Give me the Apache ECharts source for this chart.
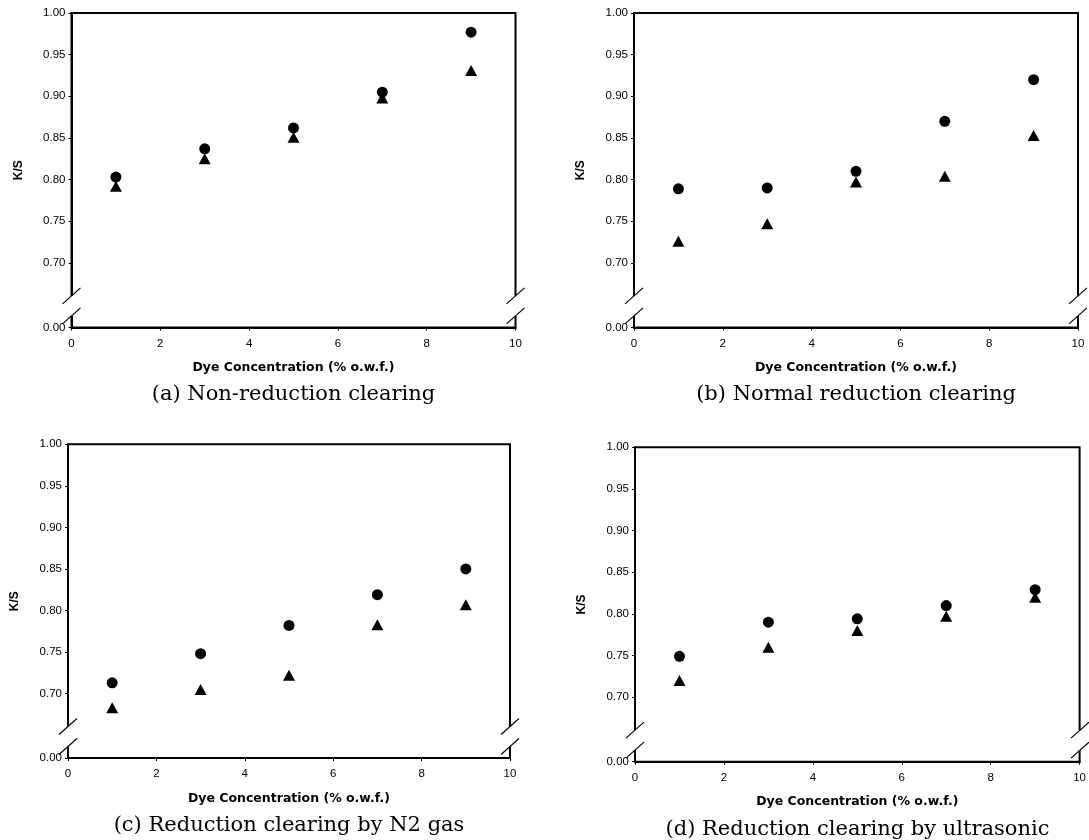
<!DOCTYPE html>
<html>
<head>
<meta charset="UTF-8">
<title>K/S vs dye concentration</title>
<script src="https://cdn.jsdelivr.net/npm/echarts@6/dist/echarts.min.js"></script>
<style>
  html, body { margin: 0; padding: 0; background: #fff; }
  #main { width: 1089px; height: 840px; }
</style>
</head>
<body>
<div id="main"></div>
<script>
// data
var conc = [1, 3, 5, 7, 9];
var circleA = [0.803, 0.837, 0.862, 0.905, 0.977];
var triA    = [0.792, 0.825, 0.851, 0.898, 0.931];
var circleB = [0.789, 0.790, 0.810, 0.870, 0.920];
var triB    = [0.726, 0.747, 0.797, 0.804, 0.853];
var circleC = [0.713, 0.748, 0.782, 0.819, 0.850];
var triC    = [0.683, 0.705, 0.722, 0.783, 0.807];
var circleD = [0.749, 0.790, 0.794, 0.810, 0.829];
var triD    = [0.720, 0.760, 0.780, 0.797, 0.820];

var yTicks = [0.6225, 0.70, 0.75, 0.80, 0.85, 0.90, 0.95, 1.00]; // first one is the "0.00" below the break
var captions = [
    '(a) Non-reduction clearing',
    '(b) Normal reduction clearing',
    '(c) Reduction clearing by N2 gas',
    '(d) Reduction clearing by ultrasonic'
];
var xName = 'Dye Concentration (% o.w.f.)';
var yName = 'K/S';

var circles = [circleA, circleB, circleC, circleD];
var triangles = [triA, triB, triC, triD];

// grid boxes (px)
var grids = [
    {left: 71.5, top: 13, width: 444, height: 314.5},
    {left: 634, top: 13, width: 444, height: 314.5},
    {left: 68, top: 444.3, width: 442, height: 313.7},
    {left: 635, top: 447.3, width: 445, height: 314.4}
];

function pairs(xs, ys) {
    return xs.map(function (x, i) { return [x, ys[i]]; });
}

var option = {
    animation: false,
    backgroundColor: '#fff',
    title: [],
    grid: [],
    xAxis: [],
    yAxis: [],
    series: []
};

grids.forEach(function (g, i) {
    option.grid.push({
        left: g.left, top: g.top, width: g.width, height: g.height,
        show: true, borderColor: '#000', borderWidth: 2, backgroundColor: 'transparent'
    });
    option.xAxis.push({
        type: 'value', gridIndex: i, min: 0, max: 10, interval: 2,
        name: xName, nameLocation: 'middle', nameGap: 34,
        nameTextStyle: {fontFamily: 'DejaVu Sans', fontWeight: 'bold', fontSize: 12.5, color: '#000'},
        axisLine: {lineStyle: {color: '#000', width: 2}},
        axisTick: {inside: false, length: 3, lineStyle: {color: '#000', width: 1}},
        axisLabel: {fontFamily: 'Liberation Sans', fontSize: 11.5, color: '#000', margin: 10},
        splitLine: {show: false}
    });
    option.yAxis.push({
        type: 'value', gridIndex: i, min: 0.6225, max: 1.0,
        name: yName, nameLocation: 'middle', nameGap: 47, nameRotate: 90,
        nameTextStyle: {fontFamily: 'Liberation Sans', fontWeight: 'bold', fontSize: 12, color: '#000'},
        axisLine: {lineStyle: {color: '#000', width: 2}},
        axisTick: {length: 3, customValues: yTicks, lineStyle: {color: '#000', width: 1}},
        axisLabel: {
            customValues: yTicks, fontFamily: 'Liberation Sans', fontSize: 11.5, color: '#000', margin: 6,
            formatter: function (v) { return v < 0.65 ? '0.00' : v.toFixed(2); }
        },
        splitLine: {show: false}
    });
    option.series.push({
        type: 'scatter', xAxisIndex: i, yAxisIndex: i,
        symbol: 'triangle', symbolSize: [12, 11],
        itemStyle: {color: '#000', opacity: 1},
        data: pairs(conc, triangles[i])
    });
    option.series.push({
        type: 'scatter', xAxisIndex: i, yAxisIndex: i,
        symbol: 'circle', symbolSize: 11,
        itemStyle: {color: '#000', opacity: 1},
        data: pairs(conc, circles[i])
    });
    option.title.push({
        text: captions[i],
        left: g.left + g.width / 2,
        top: g.top + g.height + 57,
        textAlign: 'center',
        padding: 0,
        textStyle: {fontFamily: 'DejaVu Serif', fontWeight: 'normal', fontSize: 21, color: '#000'}
    });
});

var chart = echarts.init(document.getElementById('main'), null, {renderer: 'canvas'});
chart.setOption(option);

// axis break marks: white gap in the left/right frame lines plus two slashes
var gapHi = 0.6604, gapLo = 0.6364;
var graphics = [];
grids.forEach(function (g, i) {
    var pHi = chart.convertToPixel({gridIndex: i}, [0, gapHi]);
    var pLo = chart.convertToPixel({gridIndex: i}, [0, gapLo]);
    var xs = [g.left, g.left + g.width];
    xs.forEach(function (x) {
        graphics.push({
            type: 'rect', z: 100,
            shape: {x: x - 3, y: pHi[1], width: 6, height: pLo[1] - pHi[1]},
            style: {fill: '#fff'}
        });
        [pHi[1], pLo[1]].forEach(function (y) {
            graphics.push({
                type: 'line', z: 101,
                shape: {x1: x - 9, y1: y + 8, x2: x + 9, y2: y - 8},
                style: {stroke: '#000', lineWidth: 1.2}
            });
        });
    });
});
chart.setOption({graphic: graphics});
</script>
</body>
</html>
